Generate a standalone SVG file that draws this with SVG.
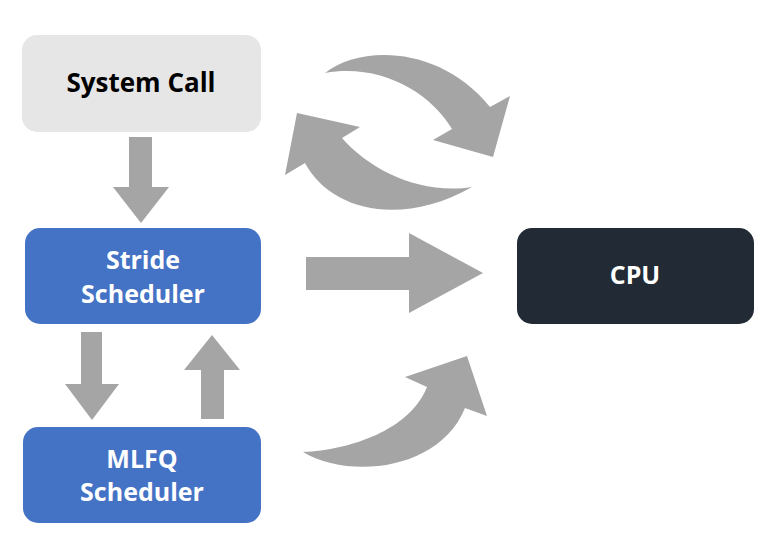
<svg xmlns="http://www.w3.org/2000/svg" width="772" height="556" viewBox="0 0 772 556">
<style>
.lbl{font-family:"Open Sans","Noto Sans","Liberation Sans",sans-serif;font-weight:bold;text-anchor:middle}
.w{fill:#ffffff}
.k{fill:#000000}
.arr{fill:#a5a5a5}
.blue{fill:#4472c4}
</style>
<rect width="772" height="556" fill="#ffffff"/>
<g id="syscall">
<rect x="22" y="35" width="239" height="97" rx="15" fill="#e7e6e6"/>
<text class="lbl k" x="141" y="92" font-size="26">System Call</text>
</g>
<g id="stride">
<rect class="blue" x="25" y="228" width="236" height="96" rx="15"/>
<text class="lbl w" x="143" y="269" font-size="25">Stride</text>
<text class="lbl w" x="143" y="303" font-size="25">Scheduler</text>
</g>
<g id="mlfq">
<rect class="blue" x="23" y="427" width="238" height="96" rx="15"/>
<text class="lbl w" x="142" y="468" font-size="25">MLFQ</text>
<text class="lbl w" x="142" y="501" font-size="25">Scheduler</text>
</g>
<g id="cpu">
<rect x="517" y="228" width="237" height="96" rx="15" fill="#222a35"/>
<text class="lbl w" x="635" y="284" font-size="25">CPU</text>
</g>
<g id="connectors">
<polygon class="arr" points="129,137 152,137 152,187 169,187 141,223 113,187 129,187"/>
<polygon class="arr" points="81,332 102,332 102,384 119,384 92,420 65,384 81,384"/>
<polygon class="arr" points="201,419 224,419 224,370 240,370 212,335 184,370 201,370"/>
<polygon class="arr" points="306,257 409,257 409,233 483,273 409,313 409,290 306,290"/>
<path class="arr" d="M325,73 C360,45 440,45 490,107 L510,96 L493,157 L433,140 L452,129 C430,92 380,63 325,73 Z"/>
<path class="arr" d="M472,187 C420,195 370,170 342,138 L360,127 L297,113 L285,175 L305,163 C330,210 400,228 472,187 Z"/>
<path class="arr" d="M303,452 C350,480 440,470 465,408 L487,416 L467,356 L405,377 L427,387 C410,430 350,450 303,452 Z"/>
</g>
</svg>
